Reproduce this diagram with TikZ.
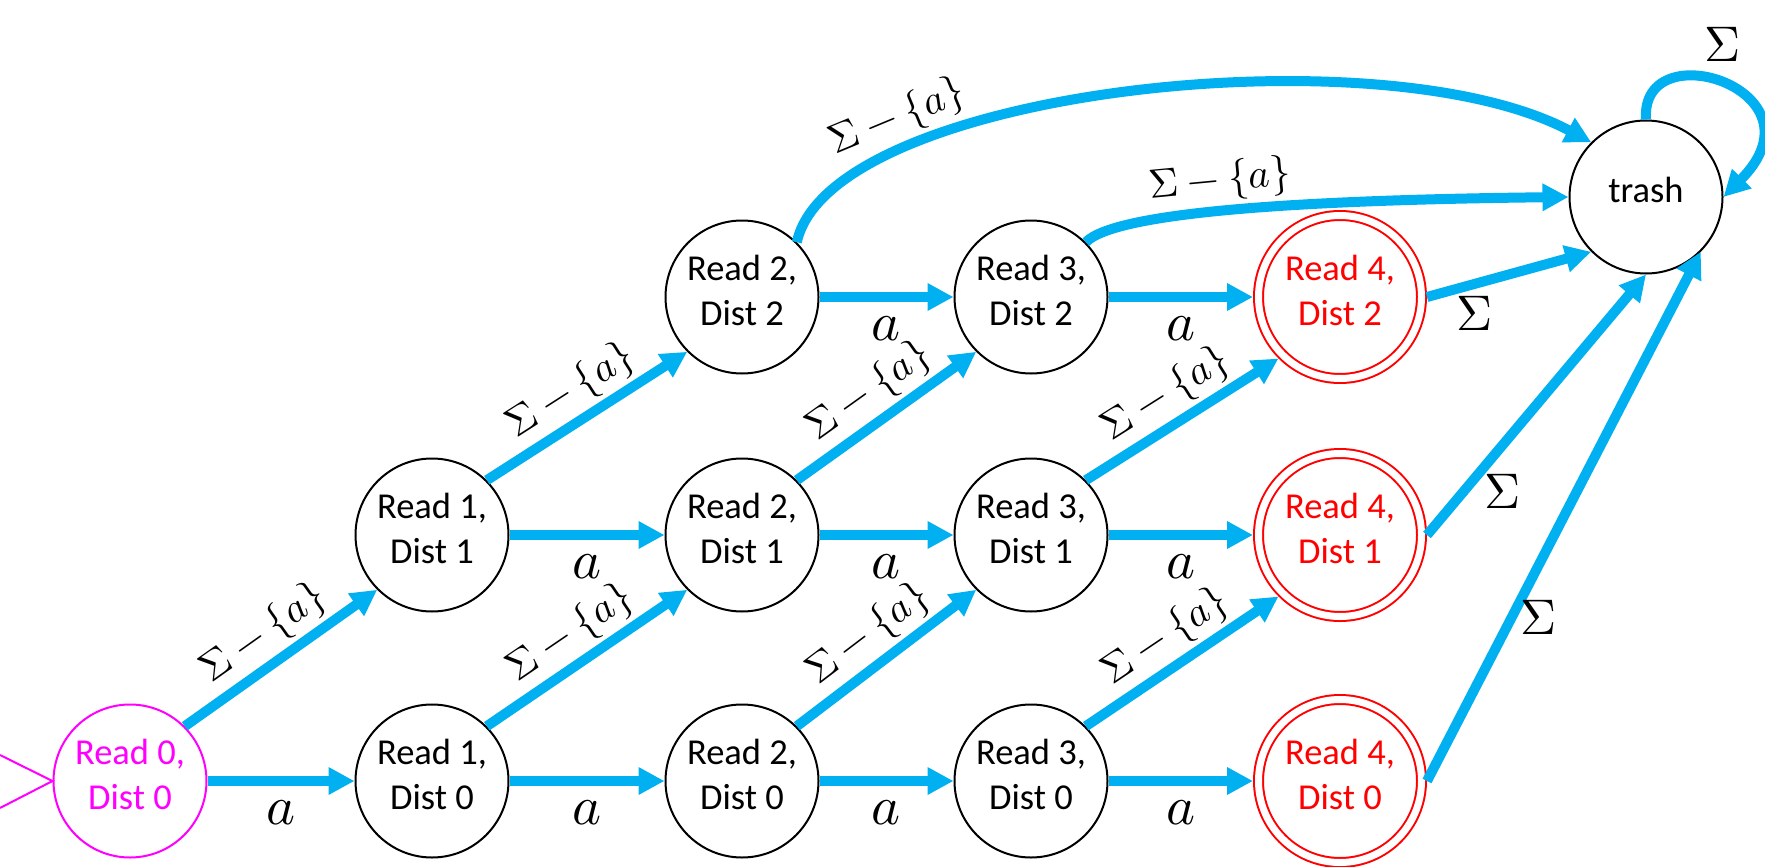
\documentclass[tikz,border=0pt]{standalone}
\usepackage{fontspec}
\usepackage{unicode-math}
\setmainfont{Carlito}
\setmathfont{Latin Modern Math}
\usetikzlibrary{arrows.meta}
\definecolor{arrowblue}{HTML}{00B0F0}
\definecolor{accred}{HTML}{FF0000}
\definecolor{startmag}{HTML}{FF00FF}
\newcommand{\lowstrut}{\rule[-14pt]{0pt}{14pt}}
\begin{document}
\begin{tikzpicture}[x=1pt,y=-1pt,
  state/.style={circle, draw=black, line width=2pt, minimum size=153pt, inner sep=0pt,
    align=center, font=\fontsize{36.5}{45}\selectfont},
  startstate/.style={state, draw=startmag, text=startmag},
  accstate/.style={state, draw=accred, text=accred, double, double distance=7pt,
    minimum size=163pt, outer sep=5.5pt},
  trans/.style={draw=arrowblue, line width=10pt, -{Triangle[length=26pt,width=26pt]}},
  alab/.style={font=\fontsize{55}{60}\selectfont, below=10pt, inner sep=4pt},
  slab/.style={font=\fontsize{41}{44}\selectfont, sloped, above=2pt, inner sep=2pt},
  siglab/.style={font=\fontsize{50}{54}\selectfont, inner sep=0pt, anchor=center}
]
\useasboundingbox (0,0) rectangle (1765,867);

\node[startstate] (r0) at (130,781) {Read 0,\\Dist 0\lowstrut};
\node[state] (r1d0) at (432,781) {Read 1,\\Dist 0\lowstrut};
\node[state] (r1d1) at (432,535) {Read 1,\\Dist 1\lowstrut};
\node[state] (r2d0) at (742,781) {Read 2,\\Dist 0\lowstrut};
\node[state] (r2d1) at (742,535) {Read 2,\\Dist 1\lowstrut};
\node[state] (r2d2) at (742,297) {Read 2,\\Dist 2\lowstrut};
\node[state] (r3d0) at (1031,781) {Read 3,\\Dist 0\lowstrut};
\node[state] (r3d1) at (1031,535) {Read 3,\\Dist 1\lowstrut};
\node[state] (r3d2) at (1031,297) {Read 3,\\Dist 2\lowstrut};
\node[accstate] (r4d0) at (1340,781) {Read 4,\\Dist 0\lowstrut};
\node[accstate] (r4d1) at (1340,535) {Read 4,\\Dist 1\lowstrut};
\node[accstate] (r4d2) at (1340,297) {Read 4,\\Dist 2\lowstrut};
\node[state] (trash) at (1646,197) {trash\lowstrut};

% start marker
\coordinate (s1) at (0,755);
\coordinate (s2) at (0,808);
\draw[startmag, line width=2pt] (s1) -- (r0.west) -- (s2);

% horizontal a-transitions
\draw[trans] (r0) -- node[alab]{$a$} (r1d0);
\draw[trans] (r1d0) -- node[alab]{$a$} (r2d0);
\draw[trans] (r2d0) -- node[alab]{$a$} (r3d0);
\draw[trans] (r3d0) -- node[alab]{$a$} (r4d0);
\draw[trans] (r1d1) -- node[alab]{$a$} (r2d1);
\draw[trans] (r2d1) -- node[alab]{$a$} (r3d1);
\draw[trans] (r3d1) -- node[alab]{$a$} (r4d1);
\draw[trans] (r2d2) -- node[alab]{$a$} (r3d2);
\draw[trans] (r3d2) -- node[alab]{$a$} (r4d2);

% diagonal transitions
\draw[trans] (r0.north east) -- node[slab]{$\Sigma-\{a\}$} (r1d1.south west);
\draw[trans] (r1d0.north east) -- node[slab]{$\Sigma-\{a\}$} (r2d1.south west);
\draw[trans] (r1d1.north east) -- node[slab]{$\Sigma-\{a\}$} (r2d2.south west);
\draw[trans] (r2d0.north east) -- node[slab]{$\Sigma-\{a\}$} (r3d1.south west);
\draw[trans] (r2d1.north east) -- node[slab]{$\Sigma-\{a\}$} (r3d2.south west);
\draw[trans] (r3d0.north east) -- node[slab]{$\Sigma-\{a\}$} (r4d1.south west);
\draw[trans] (r3d1.north east) -- node[slab]{$\Sigma-\{a\}$} (r4d2.south west);

% curves to trash
\draw[trans] (r2d2.north east) .. controls (830,90) and (1380,30) ..
  node[slab, pos=0.255]{$\Sigma-\{a\}$} (trash.north west);
\draw[trans] (r3d2.north east) .. controls (1115,212) and (1300,200) ..
  node[slab, pos=0.47]{$\Sigma-\{a\}$} (trash.west);

% accepting states to trash
\draw[trans] (r4d2.east) -- node[siglab, pos=0.24, xshift=8pt, yshift=-27pt]{$\Sigma$} (trash.south west);
\draw[trans] (r4d1.east) -- node[siglab, pos=0.24, xshift=23pt, yshift=-19pt]{$\Sigma$} (trash.south);
\draw[trans] (r4d0.east) -- node[siglab, pos=0.33, xshift=21pt, yshift=-11pt]{$\Sigma$} (trash.south east);

% self loop
\draw[trans] (trash.north) .. controls (1640,30) and (1830,90) ..
  node[siglab, pos=0.5, yshift=40pt]{$\Sigma$} (trash.east);
\end{tikzpicture}
\end{document}
